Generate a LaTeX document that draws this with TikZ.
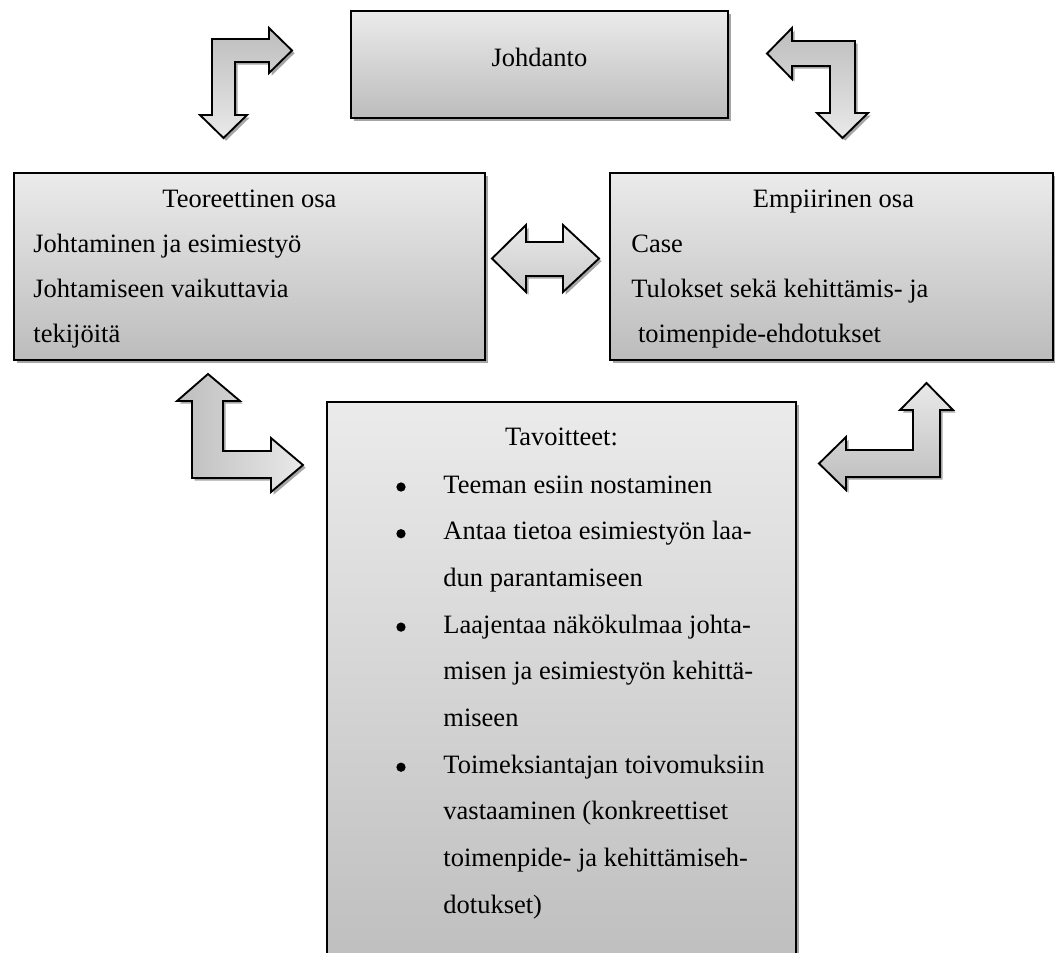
\documentclass[tikz,border=0pt]{standalone}
\usepackage{fontspec}
\setmainfont{Liberation Serif}
\usepackage{tikz}
\usetikzlibrary{positioning,calc,shadows}
\definecolor{panellight}{HTML}{EBEBEB}
\definecolor{paneldark}{HTML}{BCBCBC}
\definecolor{arrowlight}{HTML}{E9E9E9}
\definecolor{arrowdark}{HTML}{BDBDBD}
\newcommand{\unitpx}{0.453pt}

\begin{document}
\begin{tikzpicture}[x=0.453pt, y=-0.453pt,
   panel/.style={draw, line width=0.85pt, top color=panellight, bottom color=paneldark,
                 drop shadow={shadow xshift=1.2pt, shadow yshift=-1.2pt, fill=black!70, opacity=0.5},
                 anchor=north west, inner sep=0pt},
   head/.style={anchor=base, inner sep=0pt, font=\fontsize{12pt}{20.4pt}\selectfont},
   lines/.style={anchor=base west, inner sep=0pt, font=\fontsize{12pt}{20.4pt}\selectfont},
   dot/.style={circle, fill=black, inner sep=0pt, minimum size=4.2pt},
   blockarrow/.style={draw, line width=0.85pt, line join=miter,
                 drop shadow={shadow xshift=1.2pt, shadow yshift=-1.2pt, fill=black!70, opacity=0.5}}]
  \useasboundingbox (0,0) rectangle (1055,952);

  % boxes
  \node[panel, minimum width=377*\unitpx, minimum height=107*\unitpx] (intro) at (350,10) {};
  \node[panel, minimum width=471*\unitpx, minimum height=187*\unitpx] (theory) at (13,172) {};
  \node[panel, minimum width=443*\unitpx, minimum height=187*\unitpx] (empir) at (609,172) {};
  \node[panel, minimum width=469*\unitpx, minimum height=594*\unitpx] (goals) at (326,401) {};

  % block arrows
  \path[blockarrow, top color=arrowdark, bottom color=arrowlight]
    (212,39) -- (269,39) -- (269,28) -- (292,50.5) -- (269,73) -- (269,62) -- (235,62)
    -- (235,115) -- (247,115) -- (223.5,138) -- (200,115) -- (212,115) -- cycle;
  \path[blockarrow, top color=arrowdark, bottom color=arrowlight]
    (855,41) -- (792,41) -- (792,28) -- (767,53.5) -- (792,79) -- (792,66) -- (830,66)
    -- (830,113) -- (817,113) -- (842.5,138) -- (868,113) -- (855,113) -- cycle;
  \path[blockarrow, top color=arrowlight, bottom color=arrowdark!70!arrowlight]
    (492,258.5) -- (526,225) -- (526,242) -- (563,242) -- (563,225) -- (599,258.5)
    -- (563,292) -- (563,276) -- (526,276) -- (526,292) -- cycle;
  \path[blockarrow, left color=arrowdark, right color=arrowlight]
    (208,374) -- (240,401) -- (223,401) -- (223,451) -- (271,451) -- (271,438) -- (303,465)
    -- (271,492) -- (271,478) -- (192,478) -- (192,401) -- (177,401) -- cycle;
  \path[blockarrow, top color=arrowlight, bottom color=arrowdark]
    (926.5,383) -- (953,410) -- (940,410) -- (940,477) -- (846,477) -- (846,490) -- (819,463.5)
    -- (846,437) -- (846,450) -- (913,450) -- (913,410) -- (900,410) -- cycle;

  % texts
  \node[head] (introtitle) at ($(intro.north)+(0,56)$) {Johdanto};
  \node[head] (theorytitle) at ($(theory.north)+(0,35)$) {Teoreettinen osa};
  \node[lines] (theorytext) at ($(theory.north west)+(20,80)$)
    {\parbox[t]{200pt}{Johtaminen ja esimiestyö\\Johtamiseen vaikuttavia\\tekijöitä}};
  \node[head] (empirtitle) at ($(empir.north)+(2,35)$) {Empiirinen osa};
  \node[lines] (empirtext) at ($(empir.north west)+(22,80)$)
    {\parbox[t]{200pt}{Case\\Tulokset sekä kehittämis- ja\\\hspace*{3pt}toimenpide-ehdotukset}};
  \node[head] (goalstitle) at ($(goals.north)+(0,44)$) {Tavoitteet:};
  \node[lines, font=\fontsize{12pt}{21.15pt}\selectfont] (goalstext) at ($(goals.north west)+(117,92)$)
    {\parbox[t]{200pt}{Teeman esiin nostaminen\\Antaa tietoa esimiestyön laa-\\dun parantamiseen\\
     Laajentaa näkökulmaa johta-\\misen ja esimiestyön kehittä-\\miseen\\
     Toimeksiantajan toivomuksiin\\vastaaminen (konkreettiset\\toimenpide- ja kehittämiseh-\\dotukset)}};
  \foreach \k in {0,1,3,6}
    \node[dot] (bullet\k) at ($(goals.north west)+(75,86+46.7*\k)$) {};
\end{tikzpicture}
\end{document}
